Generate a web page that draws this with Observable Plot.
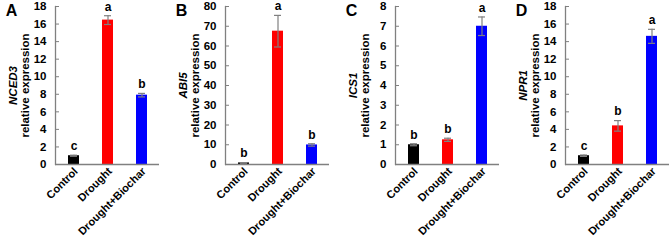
<!DOCTYPE html>
<html>
<head>
<meta charset="utf-8">
<script src="https://cdn.jsdelivr.net/npm/d3@7"></script>
<script src="https://cdn.jsdelivr.net/npm/@observablehq/plot@0.6"></script>
<style>
  body { margin: 0; background: #fff; }
  #row { display: flex; width: 669px; height: 240px; overflow: hidden; }
  #row svg { display: block; flex: none; }
</style>
</head>
<body>
<div id="row"></div>
<script>
// Treatments and bar colours
const treatments = ["Control", "Drought", "Drought+Biochar"];
const barColors = ["#000000", "#ff0000", "#0000ff"];

// Panels
const panelLetters = ["A", "B", "C", "D"];
const genes = ["NCED3", "ABI5", "ICS1", "NPR1"];
const yMax = [18, 80, 8, 18];
const yStep = [2, 10, 1, 2];

// Relative expression (mean), error and significance letters per gene
const nced3Mean = [1.0, 16.45, 7.9];
const nced3Err = [0.06, 0.5, 0.2];
const nced3Group = ["c", "a", "b"];

const abi5Mean = [0.8, 67.5, 9.9];
const abi5Err = [0.15, 8.0, 0.6];
const abi5Group = ["b", "a", "b"];

const ics1Mean = [1.0, 1.25, 7.0];
const ics1Err = [0.05, 0.08, 0.47];
const ics1Group = ["b", "b", "a"];

const npr1Mean = [1.0, 4.4, 14.6];
const npr1Err = [0.08, 0.6, 0.8];
const npr1Group = ["c", "b", "a"];

const means = [nced3Mean, abi5Mean, ics1Mean, npr1Mean];
const errs = [nced3Err, abi5Err, ics1Err, npr1Err];
const groups = [nced3Group, abi5Group, ics1Group, npr1Group];

const font = "'Liberation Sans', Arial, sans-serif";
const axisGrey = "#808080";

function panel(i, width, marginRight) {
  const rows = treatments.map((t, j) => ({
    t, mean: means[i][j], err: errs[i][j], group: groups[i][j]
  }));
  const ticks = d3.range(0, yMax[i] + yStep[i] / 2, yStep[i]);
  return Plot.plot({
    width,
    height: 240,
    marginLeft: 55,
    marginRight,
    marginTop: 6,
    marginBottom: 76,
    style: { fontFamily: font, fontSize: "11px", fontWeight: "bold", color: "#000", background: "#fff", overflow: "visible" },
    x: { domain: treatments, paddingInner: 0.686, paddingOuter: 0.343, axis: null },
    y: { domain: [0, yMax[i]], axis: null },
    color: { domain: treatments, range: barColors },
    marks: [
      Plot.barY(rows, { x: "t", y: "mean", fill: "t" }),
      Plot.ruleX(rows, { x: "t", y1: d => d.mean - d.err, y2: d => d.mean + d.err, stroke: axisGrey, strokeWidth: 1.2 }),
      Plot.tickY(rows, { x: "t", y: d => d.mean + d.err, stroke: axisGrey, strokeWidth: 1.2, insetLeft: 2, insetRight: 2 }),
      Plot.tickY(rows, { x: "t", y: d => d.mean - d.err, stroke: axisGrey, strokeWidth: 1.2, insetLeft: 2, insetRight: 2 }),
      Plot.text(rows, { x: "t", y: d => d.mean + d.err, text: "group", dy: -9, fontSize: 12, fill: "#000" }),
      Plot.ruleY([0], { stroke: axisGrey, strokeWidth: 1.3 }),
      Plot.frame({ anchor: "left", stroke: axisGrey, strokeWidth: 1.3 }),
      Plot.axisY({ ticks, tickSize: -4, tickPadding: 13, stroke: axisGrey, fill: "#000", fontSize: 11.5, label: null }),
      Plot.axisX({ tickRotate: -45, tickSize: 0, tickPadding: 5, dx: 2, fill: "#000", fontSize: 11, label: null }),
      // axis title: gene name (italic) over "relative expression"
      Plot.text([genes[i]], { text: d => d, frameAnchor: "left", dx: -42, rotate: -90, textAnchor: "middle", lineAnchor: "middle", fontStyle: "italic", fontSize: 11.5, fill: "#000" }),
      Plot.text(["relative expression"], { text: d => d, frameAnchor: "left", dx: -30, rotate: -90, textAnchor: "middle", lineAnchor: "middle", fontSize: 11.5, fill: "#000" }),
      // panel letter
      Plot.text([panelLetters[i]], { text: d => d, frameAnchor: "top-left", dx: -44, dy: 4, textAnchor: "middle", lineAnchor: "middle", fontSize: 16, fill: "#000" })
    ]
  });
}

const row = document.getElementById("row");
const widths = [170, 170, 170, 159];
const rights = [11, 11, 11, 0];
widths.forEach((w, i) => row.appendChild(panel(i, w, rights[i])));
</script>
</body>
</html>
